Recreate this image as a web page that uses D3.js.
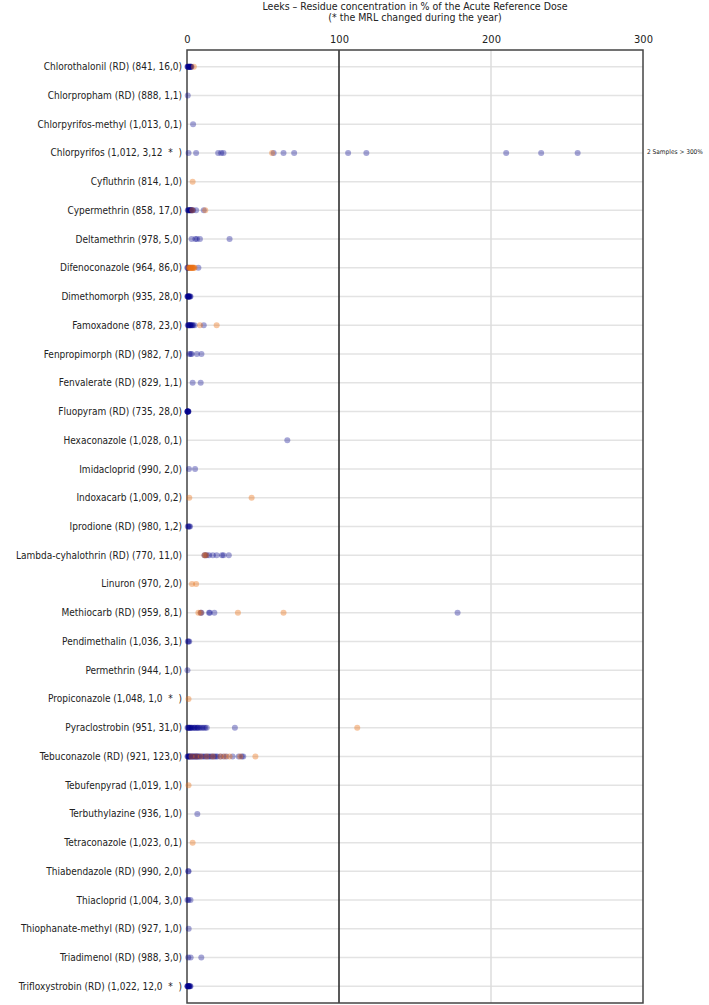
<!DOCTYPE html>
<html>
<head>
<meta charset="utf-8">
<script src="https://cdn.jsdelivr.net/npm/d3@7"></script>
<style>
  body { margin: 0; background: #fff; }
  text { font-family: "DejaVu Sans Condensed", "DejaVu Sans", sans-serif; fill: #222; }
</style>
</head>
<body>
<svg id="chart" width="709" height="1005"></svg>
<script>
// chart data
const titleLines = ['Leeks \u2013 Residue concentration in % of the Acute Reference Dose',
                    '(* the MRL changed during the year)'];
const xTicks = [0, 100, 200, 300];
const overflowNote = { row: 'Chlorpyrifos (1,012, 3,12  *  )', text: '2 Samples > 300%' };

const categories = [
  'Chlorothalonil (RD) (841, 16,0)',
  'Chlorpropham (RD) (888, 1,1)',
  'Chlorpyrifos-methyl (1,013, 0,1)',
  'Chlorpyrifos (1,012, 3,12  *  )',
  'Cyfluthrin (814, 1,0)',
  'Cypermethrin (858, 17,0)',
  'Deltamethrin (978, 5,0)',
  'Difenoconazole (964, 86,0)',
  'Dimethomorph (935, 28,0)',
  'Famoxadone (878, 23,0)',
  'Fenpropimorph (RD) (982, 7,0)',
  'Fenvalerate (RD) (829, 1,1)',
  'Fluopyram (RD) (735, 28,0)',
  'Hexaconazole (1,028, 0,1)',
  'Imidacloprid (990, 2,0)',
  'Indoxacarb (1,009, 0,2)',
  'Iprodione (RD) (980, 1,2)',
  'Lambda-cyhalothrin (RD) (770, 11,0)',
  'Linuron (970, 2,0)',
  'Methiocarb (RD) (959, 8,1)',
  'Pendimethalin (1,036, 3,1)',
  'Permethrin (944, 1,0)',
  'Propiconazole (1,048, 1,0  *  )',
  'Pyraclostrobin (951, 31,0)',
  'Tebuconazole (RD) (921, 123,0)',
  'Tebufenpyrad (1,019, 1,0)',
  'Terbuthylazine (936, 1,0)',
  'Tetraconazole (1,023, 0,1)',
  'Thiabendazole (RD) (990, 2,0)',
  'Thiacloprid (1,004, 3,0)',
  'Thiophanate-methyl (RD) (927, 1,0)',
  'Triadimenol (RD) (988, 3,0)',
  'Trifloxystrobin (RD) (1,022, 12,0  *  )'
];

// blue samples (% ARfD), one list per category
const blueValues = [
  [0.3, 0.6, 1, 1.3, 1.6, 2, 2.3, 2.6, 3, 0.5, 1.5, 2.5],
  [0.5],
  [4],
  [1, 6, 20.5, 22.5, 24, 57, 63.5, 70.5, 106, 118, 210, 233, 257],
  [],
  [0.5, 1, 1.5, 2, 2.5, 3, 3.5, 4, 1, 2, 3, 6, 11],
  [3, 5.5, 6.5, 8.5, 28],
  [0.2, 0.5, 1, 7.5],
  [0.2, 0.5, 0.8, 1, 1.3, 1.6, 2, 2.3, 0.6, 1.2],
  [0.5, 1, 1.5, 2, 2.5, 3, 3.5, 4, 5, 1, 2, 11],
  [1.5, 2.5, 3, 6.5, 9.5],
  [3.7, 9],
  [0.2, 0.4, 0.6, 0.8, 1, 0.3, 0.5, 0.7],
  [66],
  [1.3, 5.3],
  [],
  [0.5, 1, 1.5, 2],
  [11.5, 12, 13, 14.5, 17, 19.5, 23, 24, 27.5],
  [],
  [9, 9.5, 14.5, 15, 18, 178],
  [0.5, 1, 1.5],
  [0.3],
  [],
  [0.3, 0.8, 1.5, 2, 3, 4, 5, 6, 7, 8, 9, 10, 11, 12, 13, 1, 2, 3, 5, 7, 31.5],
  [0.3, 0.6, 1, 1.3, 1.6, 2, 2.5, 3, 3.5, 4, 4.5, 5, 5.5, 6, 6.5, 7, 7.5, 8, 9, 10,
   11, 12, 13, 14, 15, 16, 17, 18, 19, 20, 22, 24, 26, 30, 34, 36, 37],
  [],
  [6.8],
  [],
  [0.8, 1],
  [0.3, 1, 2.3],
  [1.1],
  [0.8, 2.4, 9.4],
  [0.2, 0.5, 0.8, 1, 1.3, 1.6, 2, 2.3, 0.4, 1.2]
];

// orange samples (% ARfD), one list per category
const orangeValues = [
  [4.5],
  [],
  [],
  [56],
  [3.7],
  [3.5, 12],
  [],
  [1, 1.5, 2, 2.5, 3, 3.5, 4, 4.5, 5, 2, 3, 4],
  [],
  [8.5, 19.5],
  [],
  [],
  [],
  [],
  [],
  [1.5, 42.5],
  [],
  [11.5, 12.5],
  [3.3, 6],
  [7.5, 9, 33.5, 63.5],
  [],
  [],
  [1],
  [112],
  [3, 6, 9, 13, 17, 22, 25, 28, 35, 45],
  [1],
  [],
  [3.7],
  [],
  [],
  [],
  [],
  []
];

const svg = d3.select('#chart');
const margin = { top: 50, left: 187, right: 66, bottom: 2 };
const width = +svg.attr('width');
const height = +svg.attr('height');
const innerWidth = width - margin.left - margin.right;
const innerHeight = height - margin.top - margin.bottom;

const xScale = d3.scaleLinear().domain([0, 300]).range([0, innerWidth]);
const yScale = d3.scalePoint().domain(categories).range([0, innerHeight]).padding(0.58);

const g = svg.append('g')
    .attr('transform', 'translate(' + margin.left + ',' + margin.top + ')');

// title
svg.selectAll('text.title')
    .data(titleLines)
  .enter().append('text')
    .attr('class', 'title')
    .attr('x', margin.left + innerWidth / 2)
    .attr('y', (d, i) => 10 + i * 11)
    .attr('text-anchor', 'middle')
    .style('font-size', '10.5px')
    .text(d => d);

// row grid lines
g.selectAll('line.row')
    .data(categories)
  .enter().append('line')
    .attr('class', 'row')
    .attr('x1', 0)
    .attr('x2', innerWidth)
    .attr('y1', d => yScale(d))
    .attr('y2', d => yScale(d))
    .style('stroke', '#e3e3e3')
    .style('stroke-width', 1.5);

// vertical reference lines
g.append('line')
    .attr('x1', xScale(200)).attr('x2', xScale(200))
    .attr('y1', 0).attr('y2', innerHeight)
    .style('stroke', '#dcdcdc')
    .style('stroke-width', 1.5);

g.append('line')
    .attr('x1', xScale(100)).attr('x2', xScale(100))
    .attr('y1', 0).attr('y2', innerHeight)
    .style('stroke', '#222')
    .style('stroke-width', 1.5);

// frame
g.append('rect')
    .attr('x', 0).attr('y', 0)
    .attr('width', innerWidth).attr('height', innerHeight)
    .style('fill', 'none')
    .style('stroke', '#444')
    .style('stroke-width', 1.5);

// x axis on top
const xAxis = g.append('g')
    .call(d3.axisTop(xScale).tickValues(xTicks).tickSize(0).tickPadding(7).tickFormat(d3.format('d')));
xAxis.select('.domain').remove();
xAxis.selectAll('text')
    .style('font-size', '11px')
    .style('font-family', '"DejaVu Sans Condensed", "DejaVu Sans", sans-serif')
    .attr('fill', '#222');

// category labels
g.selectAll('text.cat')
    .data(categories)
  .enter().append('text')
    .attr('class', 'cat')
    .attr('x', -5)
    .attr('y', d => yScale(d))
    .attr('dy', '0.35em')
    .attr('text-anchor', 'end')
    .style('font-size', '10px')
    .style('white-space', 'pre')
    .text(d => d);

// points
const toPoints = (values) => {
  const pts = [];
  values.forEach((list, i) => list.forEach(v => pts.push({ cat: categories[i], value: v })));
  return pts;
};

g.selectAll('circle.blue')
    .data(toPoints(blueValues))
  .enter().append('circle')
    .attr('class', 'blue')
    .attr('cx', d => xScale(d.value))
    .attr('cy', d => yScale(d.cat))
    .attr('r', 3)
    .style('fill', '#00008b')
    .style('fill-opacity', 0.35);

g.selectAll('circle.orange')
    .data(toPoints(orangeValues))
  .enter().append('circle')
    .attr('class', 'orange')
    .attr('cx', d => xScale(d.value))
    .attr('cy', d => yScale(d.cat))
    .attr('r', 3)
    .style('fill', '#ec7014')
    .style('fill-opacity', 0.4);

// note for samples beyond the axis
g.append('text')
    .attr('x', innerWidth + 4)
    .attr('y', yScale(overflowNote.row))
    .attr('dy', '0.2em')
    .style('font-size', '6.5px')
    .text(overflowNote.text);
</script>
</body>
</html>
